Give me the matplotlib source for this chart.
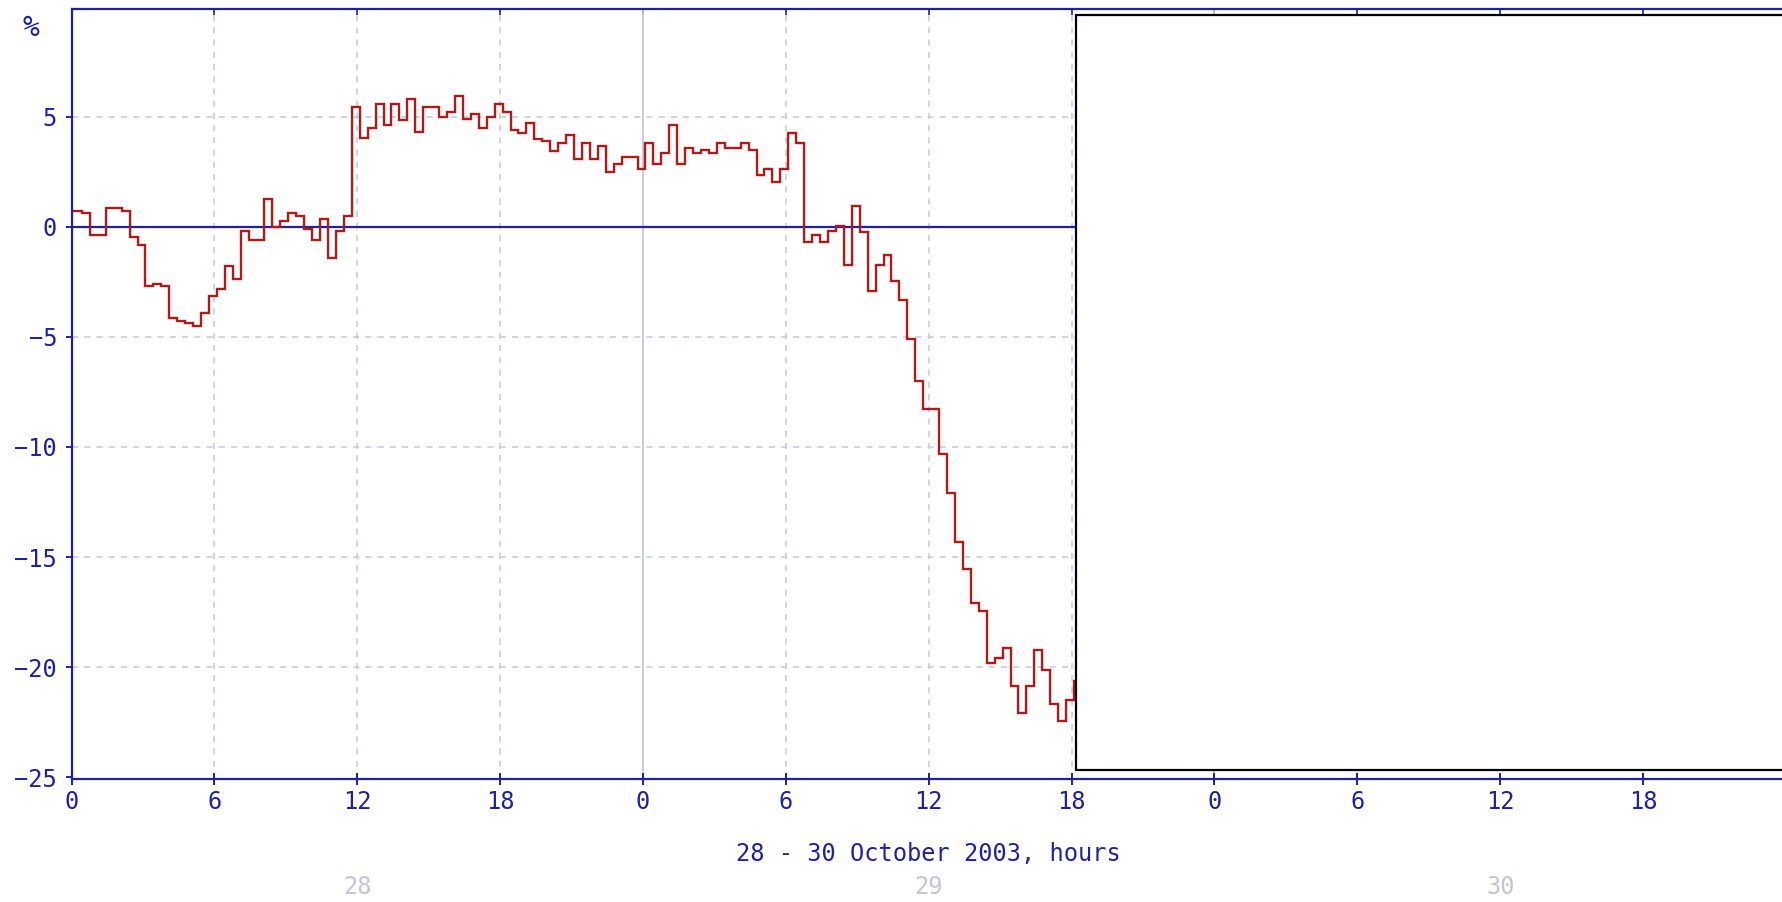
import numpy as np
import matplotlib
matplotlib.use('Agg')
import matplotlib.pyplot as plt
from matplotlib.patches import Rectangle

# 20-minute values, % (28 Oct 00:00 -> 29 Oct ~18:00)
values = [0.71, 0.61, -0.35, -0.35, 0.84, 0.84, 0.71, -0.47, -0.84, -2.7,
          -2.6, -2.7, -4.15, -4.27, -4.35, -4.48, -3.89, -3.16, -2.83, -1.76,
          -2.36, -0.2, -0.58, -0.58, 1.29, 0.0, 0.26, 0.62, 0.49, -0.09,
          -0.58, 0.36, -1.41, -0.2, 0.49, 5.47, 4.02, 4.51, 5.58, 4.63,
          5.58, 4.86, 5.80, 4.33, 5.47, 5.47, 5.0, 5.24, 5.96, 4.89,
          5.12, 4.51, 5.0, 5.58, 5.24, 4.39, 4.28, 4.74, 4.01, 3.90,
          3.45, 3.83, 4.16, 3.10, 3.83, 3.10, 3.68, 2.49, 2.84, 3.19,
          3.19, 2.61, 3.83, 2.84, 3.34, 4.63, 2.84, 3.57, 3.34, 3.48,
          3.34, 3.83, 3.57, 3.57, 3.83, 3.48, 2.38, 2.64, 2.03, 2.64,
          4.28, 3.83, -0.7, -0.35, -0.7, -0.2, 0.03, -1.75, 0.97, -0.23,
          -2.93, -1.75, -1.29, -2.48, -3.32, -5.09, -6.99, -8.28, -8.28, -10.3,
          -12.1, -14.33, -15.55, -17.07, -17.45, -19.8, -19.57, -19.12, -20.87, -22.08,
          -20.87, -19.23, -20.15, -21.7, -22.43, -21.48, -20.64]
edges = np.r_[0, 0.1 + np.arange(1, len(values) + 1) / 3]

hour_ticks = np.arange(0, 72, 6)
hour_labels = [str(h % 24) for h in hour_ticks]
y_ticks = [5, 0, -5, -10, -15, -20, -25]
days = ['28', '29', '30']
xlabel = '28 - 30 October 2003, hours'

BLUE = '#2020a6'
RED = '#b01a1a'
GRID = '#c8c8de'
DAYC = '#c4c4d8'

plt.rcParams['font.family'] = ['DejaVu Sans Mono']
fig = plt.figure(figsize=(17.82, 9.02), dpi=100)
ax = fig.add_axes([0.0402, 0.136, 0.962, 0.854])
ax.set_xlim(0, 72)
ax.set_ylim(-25.1, 9.9)

# grid
for h in hour_ticks[1:]:
    if h % 24 == 0:
        ax.axvline(h, color=GRID, lw=1.3, zorder=1)
    else:
        ax.axvline(h, color=GRID, lw=1.1, ls=(0, (4, 4)), zorder=1)
for y in y_ticks:
    if y not in (0, -25):
        ax.axhline(y, color=GRID, lw=1.1, ls=(0, (4, 4)), zorder=1)
ax.axhline(0, color=BLUE, lw=1.6, zorder=2)

ax.stairs(values, edges, baseline=None, color=RED, lw=1.7, zorder=3)

# white overlay box covering the rest of the period
ax.add_patch(Rectangle((0.5857, 0.0119), 0.43, 0.9806, transform=ax.transAxes,
                       facecolor='white', edgecolor='black', lw=1.6,
                       zorder=5, clip_on=False))

for s in ['left', 'bottom', 'top']:
    ax.spines[s].set_color(BLUE)
    ax.spines[s].set_linewidth(1.6)
ax.spines['right'].set_visible(False)
for s in ax.spines.values():
    s.set_zorder(6)

ax.set_xticks(hour_ticks)
ax.set_xticklabels(hour_labels)
ax.set_yticks(y_ticks)
ax.tick_params(axis='x', direction='inout', length=9, width=1.4, colors=BLUE,
               labelsize=17, pad=3)
ax.tick_params(axis='y', direction='out', length=4.5, width=1.4, colors=BLUE,
               labelsize=17, pad=6)
top = ax.secondary_xaxis('top')
top.set_xticks(hour_ticks)
top.tick_params(direction='in', length=4.5, width=1.2, colors=BLUE, labeltop=False)
top.spines['top'].set_visible(False)

ax.text(0.5, -0.0975, xlabel, transform=ax.transAxes, ha='center', va='center',
        color=BLUE, fontsize=17)
for i, d in enumerate(days):
    ax.text(12 + 24 * i, -0.1404, d, transform=ax.get_xaxis_transform(),
            ha='center', va='center', color=DAYC, fontsize=17)
fig.text(31 / 1782, 1 - 28 / 902, '%', ha='center', va='center', color=BLUE, fontsize=20)

fig.savefig('out.png', dpi=100)
